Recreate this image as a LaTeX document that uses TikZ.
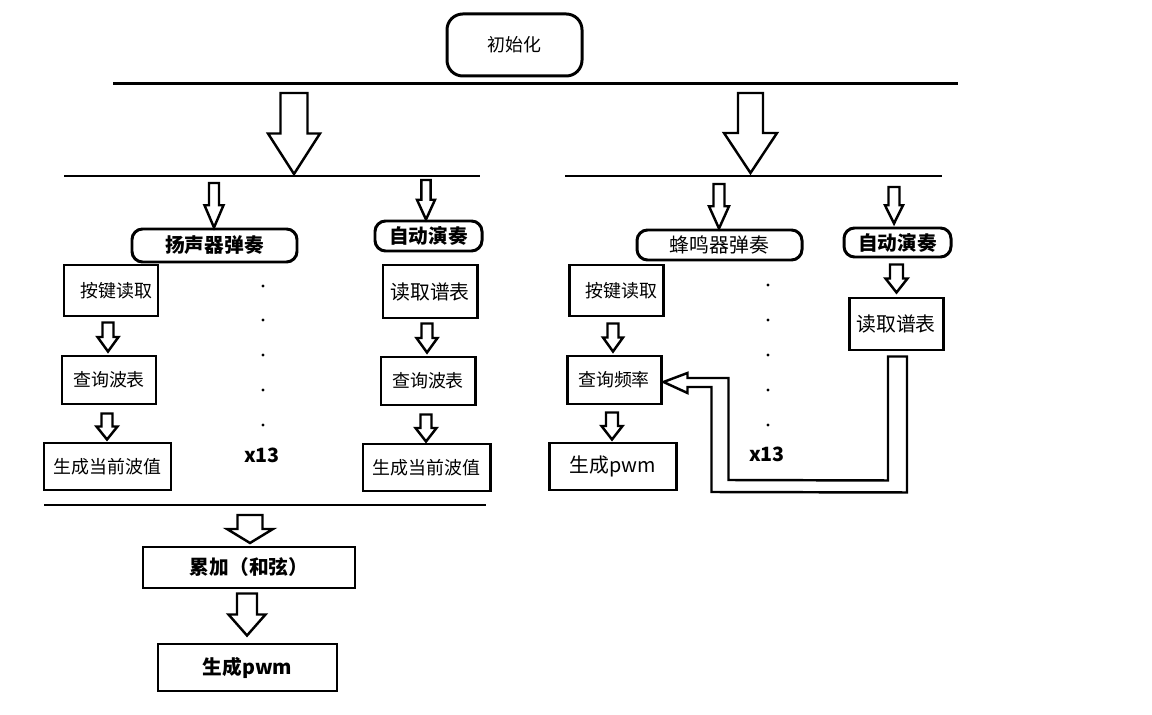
\documentclass[tikz,border=0pt]{standalone}
\usepackage{fontspec}
\setmainfont{Noto Sans CJK SC}
\usetikzlibrary{calc}

% hollow block arrow: start, tip, half shaft width, half head width (px)
\newcommand{\hollowarrow}[4]{%
  \draw[hollow] let \p1=#1, \p2=#2 in
    ({\x1-#3*0.02cm},\y1) -- ({\x1+#3*0.02cm},\y1) -- ({\x1+#3*0.02cm},{(\y1+\y2)/2})
    -- ({\x1+#4*0.02cm},{(\y1+\y2)/2}) -- (\x1,\y2) -- ({\x1-#4*0.02cm},{(\y1+\y2)/2})
    -- ({\x1-#3*0.02cm},{(\y1+\y2)/2}) -- cycle;}

\begin{document}
\begin{tikzpicture}[x=0.02cm, y=-0.02cm,
  box/.style={draw, line width=1.7pt, inner sep=0pt, align=center, font=\fontsize{10.2}{12}\selectfont},
  rbox/.style={box, rounded corners=6pt},
  big/.style={font=\fontsize{11.3}{13}\selectfont},
  bold/.style={font=\fontsize{11.2}{13}\selectfont\bfseries},
  boxsize/.style 2 args={minimum width=#1*0.02cm, minimum height=#2*0.02cm},
  hollow/.style={draw, line width=1.4pt, fill=white, line join=miter},
  bar/.style={line width=1.7pt}]

\fill[white] (0,0) rectangle (1152,715);
\useasboundingbox (0,0) rectangle (1152,715);

% Init
\node[rbox, rounded corners=9pt, boxsize={135}{62}] (init) at (514.5,45) {初始化};
\draw[bar] (113,84) -- (958,84);
\coordinate (splitL) at (294,93);
\coordinate (splitR) at (750.5,93);
\hollowarrow{(splitL)}{(294,174)}{13.5}{26}
\hollowarrow{(splitR)}{(750.5,173)}{12.5}{26.5}

% Speaker branch
\draw[bar] (64,176) -- (480,176);
\node[rbox, bold, boxsize={165}{33}] (spk) at (214.5,245.5) {扬声器弹奏};
\node[rbox, bold, boxsize={107}{30}] (autoL) at (428.5,236) {自动演奏};
\hollowarrow{(214,183)}{(spk.north)}{5}{9.5}
\hollowarrow{(426,180)}{(autoL.north)}{4.6}{9}

\node[box, boxsize={94}{51}] (keyL) at (111,290.5) {\hspace{6pt}按键读取};
\node[box, boxsize={94}{48}] (waveL) at (109,380) {查询波表};
\node[box, boxsize={127}{47}] (genL) at (107.5,466.5) {生成当前波值};
\hollowarrow{($(keyL.south)+(-3,5)$)}{($(waveL.north)+(0,-3)$)}{5.5}{10.5}
\hollowarrow{($(waveL.south)+(-2,8)$)}{($(genL.north)+(0,-2)$)}{5.5}{10.5}

\node[box, big, boxsize={94}{53}] (scoreL) at (430,291.5) {读取谱表};
\node[box, boxsize={94}{48}] (waveL2) at (428,381) {查询波表};
\node[box, boxsize={127}{47}] (genL2) at (426.5,467.5) {生成当前波值};
\hollowarrow{($(scoreL.south)+(-3,4)$)}{($(waveL2.north)+(0,-3)$)}{5.5}{10.5}
\hollowarrow{($(waveL2.south)+(-2,8)$)}{($(genL2.north)+(0,-1)$)}{5.5}{10.5}

\foreach \y in {286,320,355,390,425} {\fill (263,\y) circle (0.9pt);}
\node[bold] (cntL) at (262,455) {x13};

% Chord sum
\draw[bar] (44,505) -- (486,505);
\coordinate (sumin) at (250,515);
\node[box, bold, boxsize={212}{41}] (sum) at (249,567.5) {累加（和弦）};
\node[box, bold, boxsize={179}{47}] (pwmL) at (247.5,667.5) {生成pwm};
\hollowarrow{(sumin)}{(250,543)}{12.5}{23}
\hollowarrow{($(sum.south)+(-2,4)$)}{($(pwmL.north)+(0,-7)$)}{10}{18.5}

% Buzzer branch
\draw[bar] (565,176) -- (942,176);
\node[rbox, big, boxsize={165}{30}] (buzz) at (719.5,245) {蜂鸣器弹奏};
\node[rbox, bold, boxsize={107}{29}] (autoR) at (897.5,242.5) {自动演奏};
\hollowarrow{(719,184)}{(buzz.north)}{5.5}{10}
\hollowarrow{(894,187)}{($(autoR.north)+(0,-3)$)}{5.5}{9}

\node[box, boxsize={94}{51}] (keyR) at (616,290.5) {\hspace{6pt}按键读取};
\node[box, boxsize={94}{48}] (freq) at (614,380) {查询频率};
\node[box, big, boxsize={127}{47}] (pwmR) at (612.5,466.5) {生成pwm};
\node[box, big, boxsize={94}{52}] (scoreR) at (896,324) {读取谱表};
\hollowarrow{($(keyR.south)+(-3,6)$)}{($(freq.north)+(0,-3)$)}{5.5}{10}
\hollowarrow{($(freq.south)+(-2,7)$)}{($(pwmR.north)+(0,-2)$)}{6}{10.5}
\hollowarrow{($(autoR.south)+(-1,6)$)}{($(scoreR.north)+(0,-4)$)}{6.5}{11}

% score feeds frequency lookup
\draw[hollow] ($(scoreR.south)+(-8,5)$) -- ($(scoreR.south)+(11,5)$) -- ($(scoreR.south)+(11,141)$)
  -- ($(freq.east)+(49,112)$) -- ($(freq.east)+(49,7)$) -- ($(freq.east)+(25,7)$)
  -- ($(freq.east)+(25,13)$) -- ($(freq.east)+(1,2)$) -- ($(freq.east)+(25,-7)$)
  -- ($(freq.east)+(25,-2)$) -- ($(freq.east)+(66,-2)$) -- ($(freq.east)+(66,100)$)
  -- ($(scoreR.south)+(-8,129)$) -- cycle;

\foreach \y in {285,320,355,390,425} {\fill (768,\y) circle (0.9pt);}
\node[bold] (cntR) at (767,454) {x13};

\end{tikzpicture}
\end{document}
